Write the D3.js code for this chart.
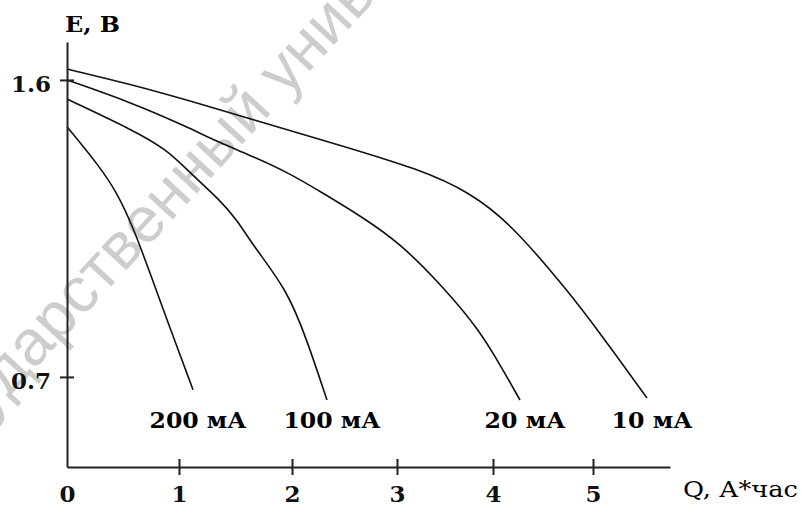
<!DOCTYPE html>
<html>
<head>
<meta charset="utf-8">
<script src="https://cdn.jsdelivr.net/npm/d3@7"></script>
<style>
  body { margin: 0; background: #fff; }
  svg { display: block; }
  .axis path, .axis line { stroke: #222; stroke-width: 2; }
  .axis text { font-family: "DejaVu Serif", serif; font-weight: bold; font-size: 23px; fill: #111; }
</style>
</head>
<body>
<div id="chart"></div>
<script>
// discharge curves, E (V) vs Q (A*h), one pair of arrays per current
const currents = ["200 мА", "100 мА", "20 мА", "10 мА"];
const q200 = [0, 0.295, 0.446, 0.589, 0.741, 0.893, 1.124];
const e200 = [1.458, 1.336, 1.258, 1.155, 1.015, 0.873, 0.661];
const q100 = [0, 0.589, 0.893, 1.071, 1.363, 1.513, 1.664, 1.956, 2.143, 2.333];
const e100 = [1.542, 1.448, 1.388, 1.327, 1.236, 1.176, 1.094, 0.964, 0.812, 0.630];
const q20 = [0, 0.589, 1.071, 1.363, 1.664, 1.973, 2.29, 2.667, 3.03, 3.48, 3.86, 4.10, 4.27];
const e20 = [1.600, 1.530, 1.458, 1.409, 1.367, 1.318, 1.258, 1.185, 1.106, 0.973, 0.842, 0.721, 0.630];
const q10 = [0, 0.589, 1.071, 1.664, 2.29, 3.27, 3.76, 4.17, 4.74, 5.07, 5.54];
const e10 = [1.633, 1.585, 1.539, 1.479, 1.418, 1.327, 1.258, 1.167, 0.964, 0.833, 0.636];
const xTicks = [0, 1, 2, 3, 4, 5];
const yTicks = [0.7, 1.6];

const width = 806, height = 506;

const svg = d3.select("#chart").append("svg")
    .attr("width", width)
    .attr("height", height);

// faint watermark of the scanned page
svg.append("text")
    .attr("transform", "translate(-73,486) rotate(-47.3)")
    .attr("font-family", "Liberation Sans, Arial, sans-serif")
    .attr("font-size", 64)
    .attr("fill", "#cdcdcd")
    .text("государственный университет");

// the hand-drawn axis has uneven tick spacing, so the scale is piecewise
const x = d3.scaleLinear()
    .domain([0, 1, 2, 3, 4, 5, 5.77])
    .range([67, 179, 292, 397, 493, 593, 670]);

const y = d3.scaleLinear()
    .domain([0.427, 1.715])
    .range([467, 42]);

const series = [
  { name: currents[0], q: q200, e: e200 },
  { name: currents[1], q: q100, e: e100 },
  { name: currents[2], q: q20, e: e20 },
  { name: currents[3], q: q10, e: e10 }
];

// readings off the scan are a bit noisy, a B-spline evens them out
const line = d3.line()
    .x(d => x(d[0]))
    .y(d => y(d[1]))
    .curve(d3.curveBasis);

series.forEach(s => {
  const pts = s.q.map((q, i) => [q, s.e[i]]);
  svg.append("path")
      .datum(pts)
      .attr("fill", "none")
      .attr("stroke", "#111")
      .attr("stroke-width", 1.6)
      .attr("d", line);
});

// x axis
const xAxis = svg.append("g")
    .attr("class", "axis")
    .attr("transform", `translate(0,${y(0.427)})`)
    .call(d3.axisBottom(x).tickValues(xTicks).tickFormat(d3.format("d")).tickSizeOuter(0));
xAxis.selectAll(".tick line").attr("y1", -8).attr("y2", 8)
    .filter(d => d === 0).remove();
xAxis.selectAll(".tick text").attr("y", 35).attr("dy", 0);

// y axis
const yAxis = svg.append("g")
    .attr("class", "axis")
    .attr("transform", `translate(${x(0)},0)`)
    .call(d3.axisLeft(y).tickValues(yTicks).tickFormat(d3.format(".1f")).tickSizeOuter(0));
yAxis.selectAll(".tick line").attr("x1", -7).attr("x2", 7);
yAxis.selectAll(".tick text").attr("x", -16).attr("dy", "0.5em");

// axis titles
svg.append("text")
    .attr("x", 65)
    .attr("y", 32)
    .attr("font-family", "DejaVu Serif, serif")
    .attr("font-weight", "bold")
    .attr("font-size", 23)
    .attr("textLength", 55)
    .attr("lengthAdjust", "spacingAndGlyphs")
    .text("Е, В");

svg.append("text")
    .attr("x", 683)
    .attr("y", 497)
    .attr("font-family", "DejaVu Serif, serif")
    .attr("font-size", 22)
    .attr("textLength", 115)
    .attr("lengthAdjust", "spacingAndGlyphs")
    .text("Q, А*час");

// current labels under the curve ends
series.forEach(s => {
  const qEnd = s.q[s.q.length - 1];
  svg.append("text")
      .attr("x", x(qEnd) + 5)
      .attr("y", 428)
      .attr("text-anchor", "middle")
      .attr("font-family", "DejaVu Serif, serif")
      .attr("font-weight", "bold")
      .attr("font-size", 22)
      .attr("textLength", s.name.length === 6 ? 97 : 81)
      .attr("lengthAdjust", "spacingAndGlyphs")
      .text(s.name);
});
</script>
</body>
</html>
